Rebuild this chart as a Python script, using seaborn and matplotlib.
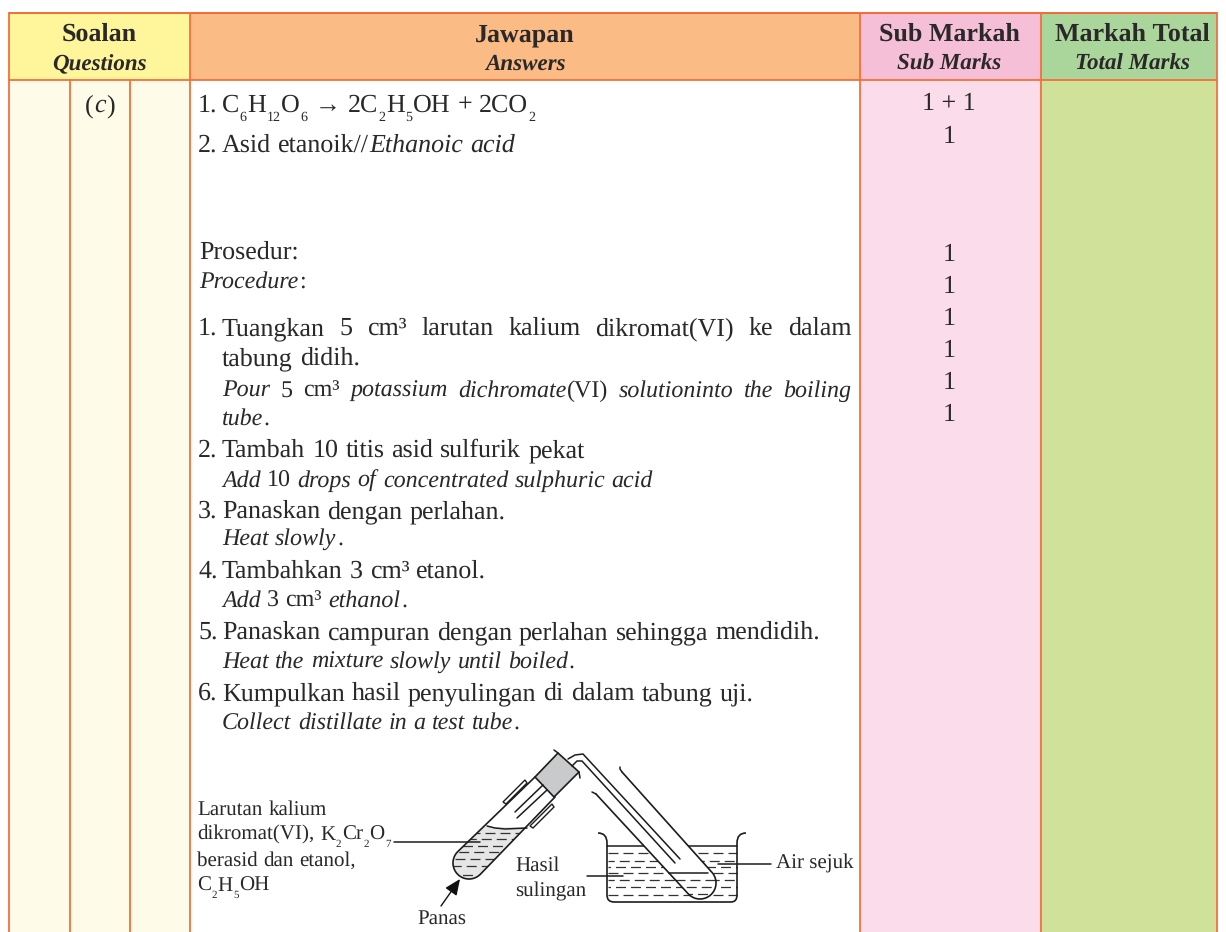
import re
import matplotlib
matplotlib.use('Agg')
import matplotlib.pyplot as plt
from matplotlib.patches import Rectangle, Polygon, PathPatch
from matplotlib.path import Path
import numpy as np
import seaborn as sns

# Table text ( * toggles italic, ~x~ is a subscript, | splits off the list number )
header_bold = ['Soalan', 'Jawapan', 'Sub Markah', 'Markah Total']
header_italic = ['Questions', 'Answers', 'Sub Marks', 'Total Marks']
part_label = '(*c*)'
answer_lines = [
    '1.|C~6~H~12~O~6~ → 2C~2~H~5~OH + 2CO~2~',
    '2.|Asid etanoik//*Ethanoic acid*',
    'Prosedur:',
    '*Procedure*:',
    '1.|Tuangkan 5 cm³ larutan kalium dikromat(VI) ke dalam',
    'tabung didih.',
    '*Pour* 5 cm³ *potassium dichromate*(VI) *solutioninto the boiling*',
    '*tube*.',
    '2.|Tambah 10 titis asid sulfurik pekat',
    '*Add* 10 *drops of concentrated sulphuric acid*',
    '3.|Panaskan dengan perlahan.',
    '*Heat slowly*.',
    '4.|Tambahkan 3 cm³ etanol.',
    '*Add* 3 cm³ *ethanol*.',
    '5.|Panaskan campuran dengan perlahan sehingga mendidih.',
    '*Heat the mixture slowly until boiled*.',
    '6.|Kumpulkan hasil penyulingan di dalam tabung uji.',
    '*Collect distillate in a test tube*.',
]
sub_marks = ['1 + 1', '1', '1', '1', '1', '1', '1', '1']
label_reagent = ['Larutan kalium', 'dikromat(VI), K~2~Cr~2~O~7~', 'berasid dan etanol,', 'C~2~H~5~OH']
label_heat = 'Panas'
label_distillate = ['Hasil', 'sulingan']
label_water = 'Air sejuk'

sns.set_theme(style='white')
plt.rcParams['font.family'] = ['Liberation Serif', 'DejaVu Sans']
plt.rcParams['text.hinting'] = 'no_hinting'
plt.rcParams['text.hinting_factor'] = 1

INK = '#2a2829'
RULE = '#f4703c'
BODY = 26.2
ITALIC = 23.8
LABEL = 21.3
SUB = 0.52

fig = plt.figure(figsize=(12.26, 9.32), dpi=100)
ax = fig.add_axes([0, 0, 1, 1])
ax.set_xlim(0, 1226)
ax.set_ylim(932, 0)
ax.axis('off')
renderer = fig.canvas.get_renderer()


def px(size):
    return size * 72 / 100


def parse_word(word):
    runs = []
    italic = False
    for tok in re.split(r'(\*|~[^~]*~)', word):
        if tok == '*':
            italic = not italic
        elif tok.startswith('~'):
            runs.append((tok[1:-1], italic, True))
        elif tok:
            runs.append((tok, italic, False))
    return runs


def split_words(line):
    # italic state carries across spaces
    out = []
    italic = False
    for w in line.split(' '):
        tagged = ('*' if italic else '') + w
        if (w.count('*') % 2) == 1:
            italic = not italic
        out.append(parse_word(tagged))
    return out


def run_width(txt, size, italic, weight='normal'):
    t = ax.text(0, 0, txt, fontsize=px(size), style='italic' if italic else 'normal', weight=weight)
    w = t.get_window_extent(renderer).width
    t.remove()
    return w


def draw_line(line, x, y, size, x1=None, color=INK):
    words = split_words(line)
    widths = []
    for runs in words:
        w = 0
        for txt, italic, sub in runs:
            w += run_width(txt, size * (SUB if sub else 1), italic) + 0.5
        widths.append(w)
    gap = size * 0.25
    if x1 is not None and len(words) > 1:
        gap = (x1 - x - sum(widths)) / (len(words) - 1)
    cx = x
    for runs, w in zip(words, widths):
        wx = cx
        for txt, italic, sub in runs:
            s = size * (SUB if sub else 1)
            ax.text(wx, y + (size * 0.34 if sub else 0), txt, fontsize=px(s), color=color, va='baseline', ha='left',
                    style='italic' if italic else 'normal', zorder=8)
            wx += run_width(txt, s, italic) + 0.5
        cx += w + gap


# Cell fills
head_top, head_bot, page_bot = 13, 80, 932
for x0, x1, c in [(9, 190, '#fff59b'), (190, 860, '#fbbb85'), (860, 1041, '#f6bfd8'), (1041, 1217, '#abd69b')]:
    ax.add_patch(Rectangle((x0, head_top), x1 - x0, head_bot - head_top, fc=c, ec='none'))
for x0, x1, c in [(9, 190, '#fffbe9'), (860, 1041, '#fbdcea'), (1041, 1217, '#d0e29a')]:
    ax.add_patch(Rectangle((x0, head_bot), x1 - x0, page_bot - head_bot, fc=c, ec='none'))

# Rules
ax.plot([9, 1217], [head_top, head_top], color='#f4602c', lw=1.3)
ax.plot([9, 1217], [head_bot, head_bot], color=RULE, lw=1.3)
for x in [9, 190, 860, 1041, 1217]:
    ax.plot([x, x], [head_top, page_bot], color=RULE, lw=1.3)
for x in [70, 130]:
    ax.plot([x, x], [head_bot, page_bot], color=RULE, lw=1.3)

# Header
head_cx = [99, 525, 949, 1132]
for cx, b, i in zip(head_cx, header_bold, header_italic):
    ax.text(cx, 41, b, fontsize=px(26.4), weight='bold', ha='center', va='baseline', color=INK)
    ax.text(cx, 70, i, fontsize=px(23.5), weight='bold', style='italic', ha='center', va='baseline', color=INK)

draw_line(part_label, 85, 112, 26)

# Answer column
answer_y = [112, 152, 259, 288, 335, 365, 397, 425, 457, 487, 518, 545, 578, 607, 639, 668, 700, 729]
justify_to = {4: 852, 6: 852}
for i, (line, y) in enumerate(zip(answer_lines, answer_y)):
    italic_line = line.startswith('*')
    size = ITALIC if italic_line else BODY
    if '|' in line:
        num, rest = line.split('|')
        draw_line(num, 198, y, BODY)
        draw_line(rest, 222, y, BODY, x1=justify_to.get(i))
    elif i <= 3:
        draw_line(line, 199, y, size)
    else:
        draw_line(line, 222, y, size, x1=justify_to.get(i))

# Sub marks
for mark, y in zip(sub_marks, [110, 143, 261, 293, 325, 357, 389, 421]):
    ax.text(949, y, mark, fontsize=px(25.5), ha='center', va='baseline', color=INK)

# ---- Apparatus ----
LINE = '#1c1c1c'


def seg(pts, lw=1.1, z=6, **kw):
    pts = np.array(pts, float)
    ax.plot(pts[:, 0], pts[:, 1], color=LINE, lw=lw, zorder=z, solid_capstyle='round', **kw)


def arc_points(p_a, p_b, c, r):
    # shorter way round the far end of a tube, going anticlockwise on screen
    a0 = np.arctan2(p_a[1] - c[1], p_a[0] - c[0])
    b0 = np.arctan2(p_b[1] - c[1], p_b[0] - c[0])
    if b0 > a0:
        b0 -= 2 * np.pi
    t = np.linspace(a0, b0, 40)
    return np.c_[c[0] + r * np.cos(t), c[1] + r * np.sin(t)]


def dashes(x0, x1, y, clip=None, offset=1, z=4):
    l, = ax.plot([x0, x1], [y, y], color='#333333', lw=0.9, ls=(offset, (8, 4)), zorder=z)
    if clip is not None:
        l.set_clip_path(clip)


# Test tube with reagent
arc1 = arc_points((457.7, 851.7), (480.3, 874.3), (469, 863), 16)
wall1 = np.vstack([[(535, 777)], arc1, [(555, 797)]])
shape1 = Polygon(wall1, closed=True, fc='white', ec='none', zorder=3)
ax.add_patch(shape1)
liquid1 = Rectangle((440, 827), 100, 60, fc='#e6e6e6', ec='none', zorder=3.5)
ax.add_patch(liquid1)
liquid1.set_clip_path(shape1)
for n, y in enumerate([833, 839, 846, 852, 859, 866, 875]):
    dashes(440, 540, y, clip=shape1, offset=n * 3)
seg(wall1, lw=1.2)
ax.plot([487, 495, 505, 527], [826, 828, 829, 828], color=LINE, lw=1.1, zorder=5)

# Stopper and clamps
ax.add_patch(Polygon([(558, 753), (579, 772), (554, 797), (535, 777)], closed=True, fc='#c9cacb', ec=LINE, lw=1.2, zorder=6))
seg([(554, 750), (558, 753)])
seg([(579, 772), (580, 778)])
ax.add_patch(Polygon([(503, 802), (525, 780), (527, 783), (506, 804)], closed=True, fc='white', ec=LINE, lw=1.0, zorder=6))
ax.add_patch(Polygon([(530, 826), (552, 804), (554, 807), (533, 828)], closed=True, fc='white', ec=LINE, lw=1.0, zorder=6))
seg([(515, 812), (543, 785)])
seg([(517, 818), (547, 790)])

# Beaker
for n, y in enumerate([853, 861, 867, 873, 880, 887, 895]):
    dashes(608, 737, y, offset=(n % 3) * 3, z=2)
seg([(607, 846), (737, 846)], z=2)
beaker_v = [(598, 833), (607, 833), (607, 843), (607, 895), (607, 902), (614, 902), (731, 902),
            (737, 902), (737, 895), (737, 843), (737, 833), (746, 833)]
beaker_c = [Path.MOVETO, Path.CURVE3, Path.CURVE3, Path.LINETO, Path.CURVE3, Path.CURVE3, Path.LINETO,
            Path.CURVE3, Path.CURVE3, Path.LINETO, Path.CURVE3, Path.CURVE3]
ax.add_patch(PathPatch(Path(beaker_v, beaker_c), fc='none', ec=LINE, lw=1.2, zorder=7))

# Receiving tube
arc2 = arc_points((688, 893.5), (712, 872.5), (700, 883), 16)
wall2 = np.vstack([[(596, 794)], arc2, [(622, 772)]])
shape2 = Polygon(wall2, closed=True, fc='white', ec='none', zorder=3)
ax.add_patch(shape2)
for n, y in enumerate([880, 887, 894]):
    dashes(660, 720, y, clip=shape2, offset=n * 3)
seg(wall2, lw=1.2, z=5)
seg([(596, 794), (592, 792)], z=5)
seg([(622, 772), (620, 769), (620, 767)], z=5)
seg([(669, 873), (708, 873)], z=5)

# Delivery tube
seg([(568, 759), (575, 755), (583, 754), (680, 859)])
seg([(572, 766), (577, 761), (582, 761), (675, 863)])

# Labels and leader lines
for txt, y in zip(label_reagent, [815, 840, 866, 891]):
    draw_line(txt, 197, y, LABEL)
seg([(394, 842), (480, 842)], z=6)
ax.text(417, 924, label_heat, fontsize=px(LABEL), color=INK, va='baseline')
ax.annotate('', xy=(460, 879), xytext=(441, 906), zorder=7,
            arrowprops=dict(arrowstyle='-|>,head_width=0.35,head_length=0.8', color='#111111', lw=1, shrinkA=0, shrinkB=0))
for txt, y in zip(label_distillate, [871, 896]):
    ax.text(515, y, txt, fontsize=px(LABEL), color=INK, va='baseline')
seg([(587, 876), (623, 876)], z=6)
ax.text(776, 869, label_water, fontsize=px(LABEL), color=INK, va='baseline')
seg([(718, 864), (771, 864)], z=6)

fig.savefig('out.png', dpi=100, facecolor='white')
